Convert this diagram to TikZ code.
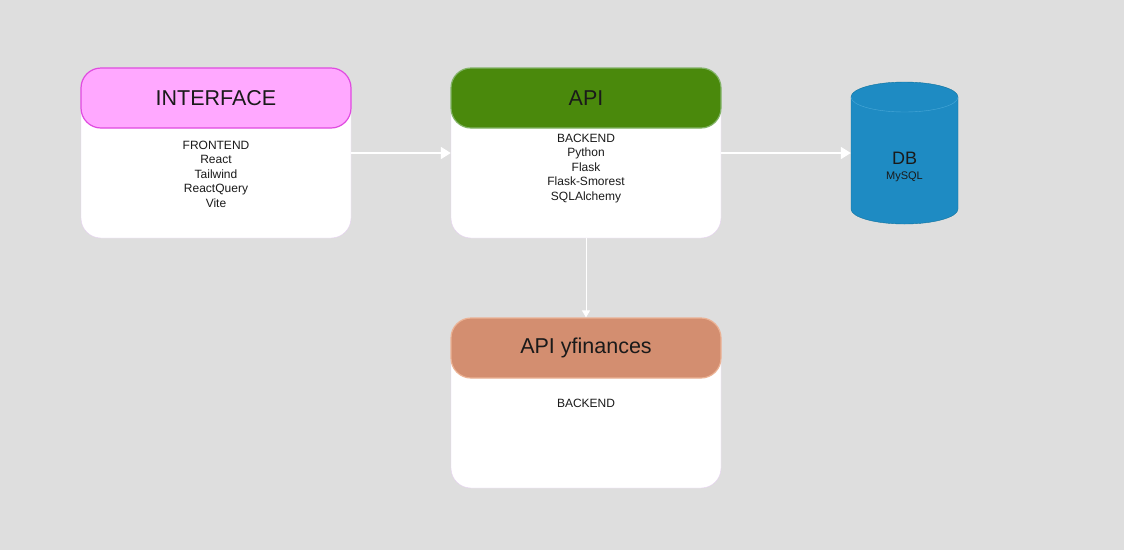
\documentclass[tikz,border=0pt]{standalone}
\usepackage{fontspec}
\setmainfont{Liberation Sans}
\usetikzlibrary{arrows.meta}
\definecolor{bggray}{HTML}{DEDEDE}
\definecolor{pinkfill}{HTML}{FFA8FF}
\definecolor{pinkline}{HTML}{E04BE0}
\definecolor{greenfill}{HTML}{4A890C}
\definecolor{greenline}{HTML}{82B366}
\definecolor{orangefill}{HTML}{D38E70}
\definecolor{orangeline}{HTML}{EBB294}
\definecolor{bodyline}{HTML}{E6D0F0}
\definecolor{dbfill}{HTML}{1E8BC3}
\definecolor{dbline}{HTML}{10739E}
\definecolor{dbrim}{HTML}{4AA8D8}
\definecolor{inktext}{HTML}{1A1A1A}

\begin{document}
\begin{tikzpicture}[
    x=1pt, y=-1pt,
    body/.style={rectangle, rounded corners=20pt, draw=bodyline, fill=white,
        minimum width=270pt, minimum height=170pt, inner sep=0pt},
    head/.style={rectangle, rounded corners=20pt, line width=1.2pt,
        minimum width=270pt, minimum height=60pt, inner sep=0pt,
        font=\fontsize{21.5}{25}\selectfont, text=inktext},
    list/.style={align=center, inner sep=0pt, text=inktext,
        font=\fontsize{12}{14.4}\selectfont},
    link/.style={draw=white, line width=1.8pt, -{Triangle[length=10pt, width=12pt]}}
]
    \useasboundingbox[fill=bggray] (0,0) rectangle (1124,550);

    % interface
    \node[body] (ifbody) at (216,153) {};
    \node[head, fill=pinkfill, draw=pinkline] (ifhead) at (216,98) {INTERFACE};
    \node[list, anchor=north] (iflist) at (216,141)
        {FRONTEND\\React\\Tailwind\\ReactQuery\\Vite};

    % api
    \node[body] (apibody) at (586,153) {};
    \node[head, fill=greenfill, draw=greenline] (apihead) at (586,98) {API};
    \node[list, anchor=north] (apilist) at (586,134)
        {BACKEND\\Python\\Flask\\Flask-Smorest\\SQLAlchemy};

    % yfinances
    \node[body] (yfbody) at (586,403) {};
    \node[head, fill=orangefill, draw=orangeline] (yfhead) at (586,348) {API yfinances};
    \node[list, anchor=north] (yflist) at (586,399) {BACKEND};

    % database
    \node[minimum width=107pt, minimum height=142pt, inner sep=0pt] (db) at (904.5,153) {};
    \path[fill=dbfill, draw=dbline] (851,97) -- (851,209)
        arc[start angle=180, end angle=0, x radius=53.5, y radius=15] -- (958,97)
        arc[start angle=0, end angle=-180, x radius=53.5, y radius=15] -- cycle;
    \draw[dbrim] (851,97) arc[start angle=180, end angle=0, x radius=53.5, y radius=15];
    \node[text=inktext, font=\fontsize{18}{20}\selectfont] (dbname) at (904.5,158) {DB};
    \node[text=inktext, font=\fontsize{11}{13}\selectfont] (dbkind) at (904.5,177) {MySQL};

    \draw[link] (ifbody.east) -- (apibody.west);
    \draw[link] (apibody.east) -- (db.west);
    \draw[link, line width=1pt, -{Triangle[length=7pt, width=8pt]}] (apibody.south) -- (yfhead.north);
\end{tikzpicture}
\end{document}
